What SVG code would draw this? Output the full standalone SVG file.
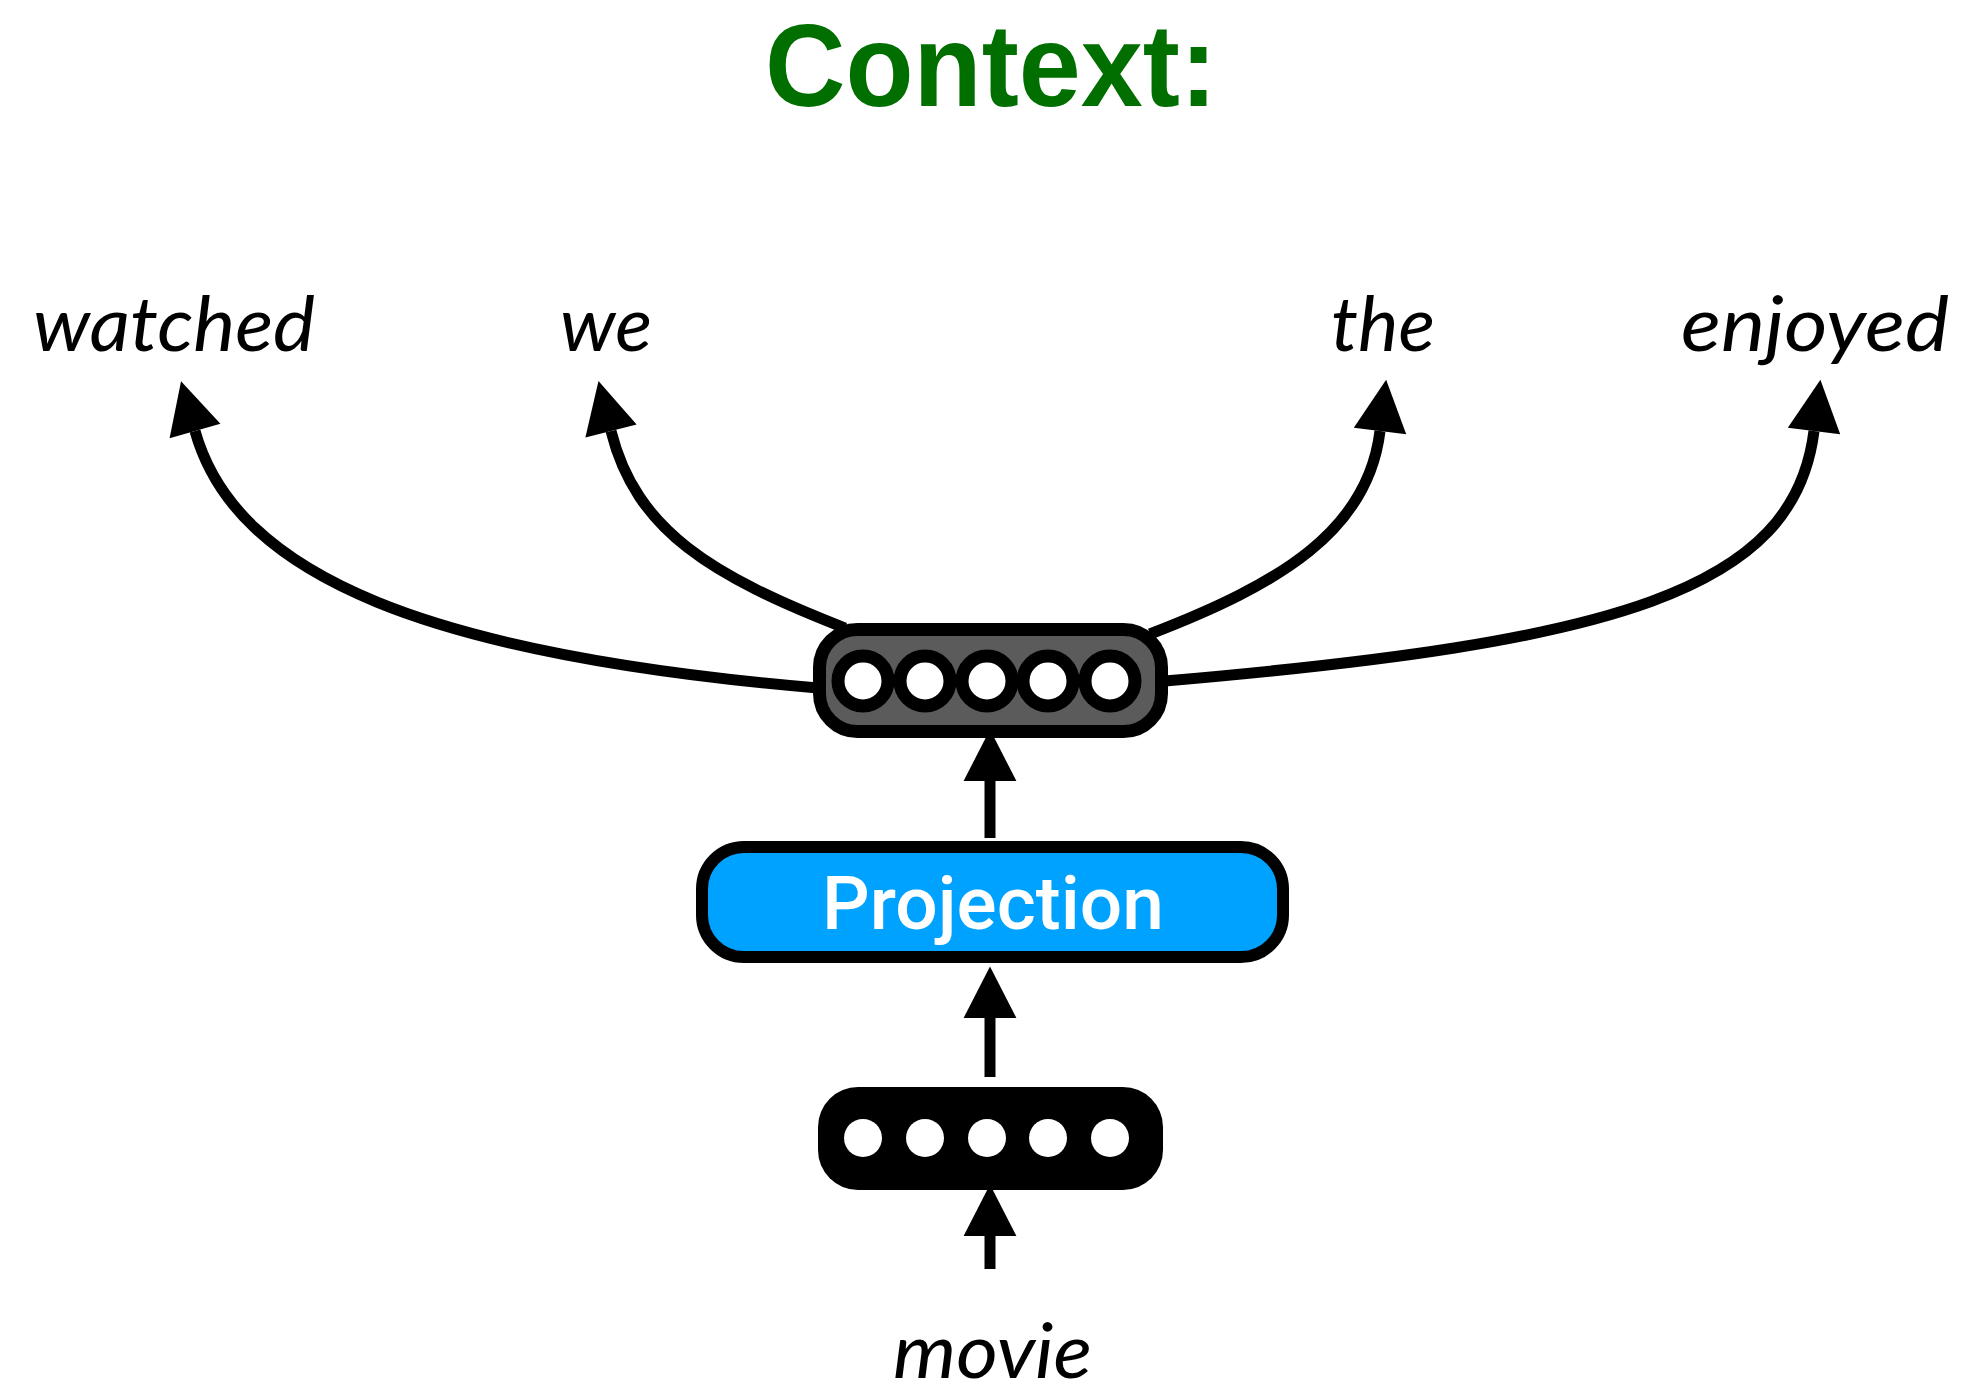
<svg xmlns="http://www.w3.org/2000/svg" width="1962" height="1394" viewBox="0 0 1962 1394">
  <defs>
    <marker id="head" markerUnits="userSpaceOnUse" markerWidth="60" markerHeight="60" viewBox="0 -25 44 50" refX="0" refY="0" orient="auto">
      <path d="M0,-22 L43,0 L0,22 Z" fill="#000"/>
    </marker>
    <style>
      .word { font-family: Lato, "Noto Sans", sans-serif; font-style: italic; font-size: 76px; fill: #000; }
      .link { fill: none; stroke: #000; stroke-width: 11; marker-end: url(#head); }
      .stem { fill: none; stroke: #000; stroke-width: 11; marker-end: url(#head); }
      .unit { fill: #fff; stroke: #000; stroke-width: 13; }
      .dot { fill: #fff; }
    </style>
  </defs>
  <rect width="1962" height="1394" fill="#fff"/>

  <!-- heading -->
  <text id="title" x="991" y="106" text-anchor="middle" textLength="452" lengthAdjust="spacingAndGlyphs" font-family="'Liberation Sans', Arial, sans-serif" font-weight="700" font-size="116" fill="#006f00">Context:</text>

  <!-- context words -->
  <g id="word-watched"><text class="word" x="33" y="351" textLength="282" lengthAdjust="spacingAndGlyphs">watched</text></g>
  <g id="word-we"><text class="word" x="560" y="351" textLength="92" lengthAdjust="spacingAndGlyphs">we</text></g>
  <g id="word-the"><text class="word" x="1331" y="351" textLength="104" lengthAdjust="spacingAndGlyphs">the</text></g>
  <g id="word-enjoyed"><text class="word" x="1681" y="351" textLength="268" lengthAdjust="spacingAndGlyphs">enjoyed</text></g>
  <g id="word-movie"><text class="word" x="893" y="1378" textLength="199" lengthAdjust="spacingAndGlyphs">movie</text></g>

  <!-- connectors -->
  <g id="connectors">
    <path class="link" d="M818,688 C430,655 236,577 195,431"/>
    <path class="link" d="M845,628 C712,576 636,531 611,431"/>
    <path class="link" d="M1150,634 C1280,584 1368,531 1380,431"/>
    <path class="link" d="M1165,681 C1617,642 1794,591 1814,431"/>
    <line class="stem" x1="990" y1="838" x2="990" y2="781"/>
    <line class="stem" x1="990" y1="1077" x2="990" y2="1018"/>
    <line class="stem" x1="990" y1="1269" x2="990" y2="1236"/>
  </g>

  <!-- hidden layer -->
  <g id="hidden">
    <rect x="819.5" y="629.5" width="342" height="102" rx="38" ry="38" fill="#5b5b5b" stroke="#000" stroke-width="13"/>
    <circle class="unit" cx="863" cy="681" r="25"/>
    <circle class="unit" cx="925" cy="681" r="25"/>
    <circle class="unit" cx="987" cy="681" r="25"/>
    <circle class="unit" cx="1048" cy="681" r="25"/>
    <circle class="unit" cx="1110" cy="681" r="25"/>
  </g>

  <!-- projection layer -->
  <g id="projection">
    <rect x="702" y="847" width="581" height="110" rx="42" ry="42" fill="#00a2ff" stroke="#000" stroke-width="12"/>
    <text x="993" y="929" text-anchor="middle" textLength="342" lengthAdjust="spacingAndGlyphs" font-family="Roboto, 'Liberation Sans', sans-serif" font-weight="500" font-size="75" fill="#fff">Projection</text>
  </g>

  <!-- input one-hot vector -->
  <g id="input">
    <rect x="818" y="1087" width="345" height="103" rx="40" ry="40" fill="#000"/>
    <circle class="dot" cx="863" cy="1138" r="19"/>
    <circle class="dot" cx="925" cy="1138" r="19"/>
    <circle class="dot" cx="987" cy="1138" r="19"/>
    <circle class="dot" cx="1048" cy="1138" r="19"/>
    <circle class="dot" cx="1110" cy="1138" r="19"/>
  </g>
</svg>
